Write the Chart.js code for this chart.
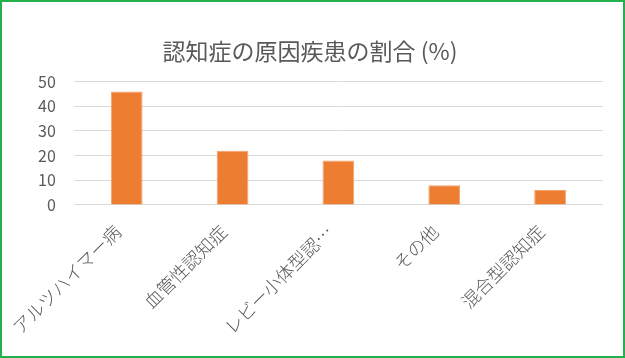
<!DOCTYPE html>
<html><head><meta charset="utf-8">
<script src="https://cdn.jsdelivr.net/npm/chart.js@4/dist/chart.umd.min.js"></script>
<style>
html,body{margin:0;padding:0;background:#fff;}
#wrap{position:absolute;left:0;top:0;width:621px;height:354px;border:2px solid #22b14c;}
canvas{display:block;}
</style></head><body>
<div id="wrap"><canvas id="c" width="621" height="354"></canvas></div>
<script>
const categories = ["アルツハイマー病","血管性認知症","レビー小体型認…","その他","混合型認知症"];
const values = [46, 22, 18, 8, 6];
const yTicks = [0,10,20,30,40,50];
const titleText = "認知症の原因疾患の割合 (%)";
const FONT = "'Noto Sans CJK JP','Noto Sans',sans-serif";
new Chart(document.getElementById('c'), {
  type: 'bar',
  data: { labels: categories, datasets: [{ data: values, backgroundColor: '#ED7D31', borderColor:'#F4A06A', borderWidth:1, barPercentage: 0.6, categoryPercentage: 0.5 }] },
  options: {
    responsive: false, animation: false,
    layout: { padding: { left: 15, right: 20, top: 35, bottom: 2 } },
    plugins: {
      legend: { display: false }, tooltip: { enabled: false },
      title: { display: true, text: titleText, color: '#595959', font: { family: FONT, size: 23, weight: 'normal' }, padding: { top: 0, bottom: 17 } }
    },
    scales: {
      x: {
        grid: { display: false, drawTicks: false }, border: { display: false },
        ticks: { color: '#595959', font: { family: FONT, size: 18, weight: 300 }, minRotation: 45, maxRotation: 45, padding: 16, labelOffset: -9, autoSkip: false }
      },
      y: {
        min: 0, max: 50,
        afterBuildTicks: (ax) => { ax.ticks = yTicks.map(v => ({ value: v })); },
        grid: { color: '#d9d9d9', lineWidth: 1, drawTicks: false }, border: { display: false },
        ticks: { color: '#595959', font: { family: FONT, size: 16 }, padding: 18 }
      }
    }
  }
});
</script></body></html>
